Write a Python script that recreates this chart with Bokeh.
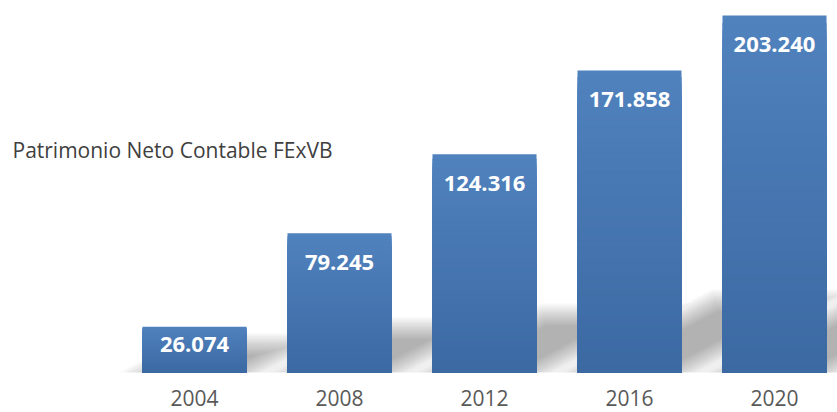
import numpy as np
from bokeh.plotting import figure
from bokeh.models import ColumnDataSource, Range1d, LabelSet, Label
from bokeh.core.properties import value
from bokeh.embed import file_html
from bokeh.resources import INLINE

# ---- data ----
years = [2004, 2008, 2012, 2016, 2020]
values = [26074, 79245, 124316, 171858, 203240]
value_labels = ["26.074", "79.245", "124.316", "171.858", "203.240"]
year_labels = ["2004", "2008", "2012", "2016", "2020"]
title_text = "Patrimonio Neto Contable FExVB"

# ---- layout ----
W, H = 837, 412
BASE_PX = 372            # baseline distance from top of canvas
x0 = 1998.648
x1 = 2021.738
px_per_x = W / (x1 - x0)
u_per_px = 569.30
y1 = BASE_PX * u_per_px
y0 = -(H - BASE_PX) * u_per_px
bar_w = 2.87

p = figure(width=W, height=H, x_range=Range1d(x0, x1), y_range=Range1d(y0, y1),
           output_backend="svg", toolbar_location=None,
           x_axis_location=None, y_axis_location=None,
           min_border_left=0, min_border_right=0, min_border_top=0,
           min_border_bottom=0)
p.outline_line_color = None
p.background_fill_color = "white"
p.border_fill_color = "white"
p.grid.visible = False

# ---- soft perspective shadows (clipped at the baseline) ----
K = 14
B = 11.0
alpha = 1 - (1 - 0.30) ** (1.0 / K)
sxs, sys = [], []
for yr, v in zip(years, values):
    h_px = v / u_per_px
    dy = 0.17 * h_px + 21
    dx = 1.9 * dy
    k = dx / dy
    L = (yr - bar_w / 2 - x0) * px_per_x
    R = (yr + bar_w / 2 - x0) * px_per_x
    for d in np.linspace(-B, B, K):
        s = d * np.hypot(dx, dy) / dy
        yb = max(-d, 0.0)
        yt = dy + d
        pts = [(L - s + yb * k, yb), (R + s + yb * k, yb),
               (R + s + yt * k, yt), (L - s + yt * k, yt)]
        sxs.append([x0 + px / px_per_x for px, _ in pts])
        sys.append([py * u_per_px for _, py in pts])
p.patches(sxs, sys, fill_color="black", fill_alpha=alpha, line_color=None)

# ---- gradient bars ----
N = 48
top = np.array([80, 130, 190])
bot = np.array([60, 105, 162])
gx, gtop, gcol = [], [], []
for i in range(N):
    c = top + (bot - top) * (i + 0.5) / N
    hexc = "#%02x%02x%02x" % tuple(int(round(q)) for q in c)
    for yr, v in zip(years, values):
        gx.append(yr)
        gtop.append(v * (1 - i / N))
        gcol.append(hexc)
p.vbar(x=gx, top=gtop, bottom=0, width=bar_w, fill_color=gcol, line_color=None)

# ---- value labels ----
offs = [-min(29, v / u_per_px - 28) for v in values]
src = ColumnDataSource(dict(x=years, y=values, t=value_labels, off=offs))
p.add_layout(LabelSet(x="x", y="y", text="t", y_offset="off", source=src,
                      text_align="center", text_baseline="middle",
                      text_color="white", text_font=value("Open Sans"),
                      text_font_style="bold", text_font_size="22px"))

# ---- category labels ----
ysrc = ColumnDataSource(dict(x=years, y=[0] * len(years), t=year_labels))
p.add_layout(LabelSet(x="x", y="y", text="t", y_offset=-33, source=ysrc,
                      text_align="center", text_baseline="alphabetic",
                      text_color="#595959", text_font=value("Open Sans"),
                      text_font_size="21px"))

# ---- title text ----
p.add_layout(Label(x=x0 + 12 / px_per_x, y=223 * u_per_px, text=title_text,
                   text_align="left", text_baseline="alphabetic",
                   text_color="#404040", text_font="Open Sans",
                   text_font_size="21px"))

open("out.html", "w").write(file_html(p, INLINE))
